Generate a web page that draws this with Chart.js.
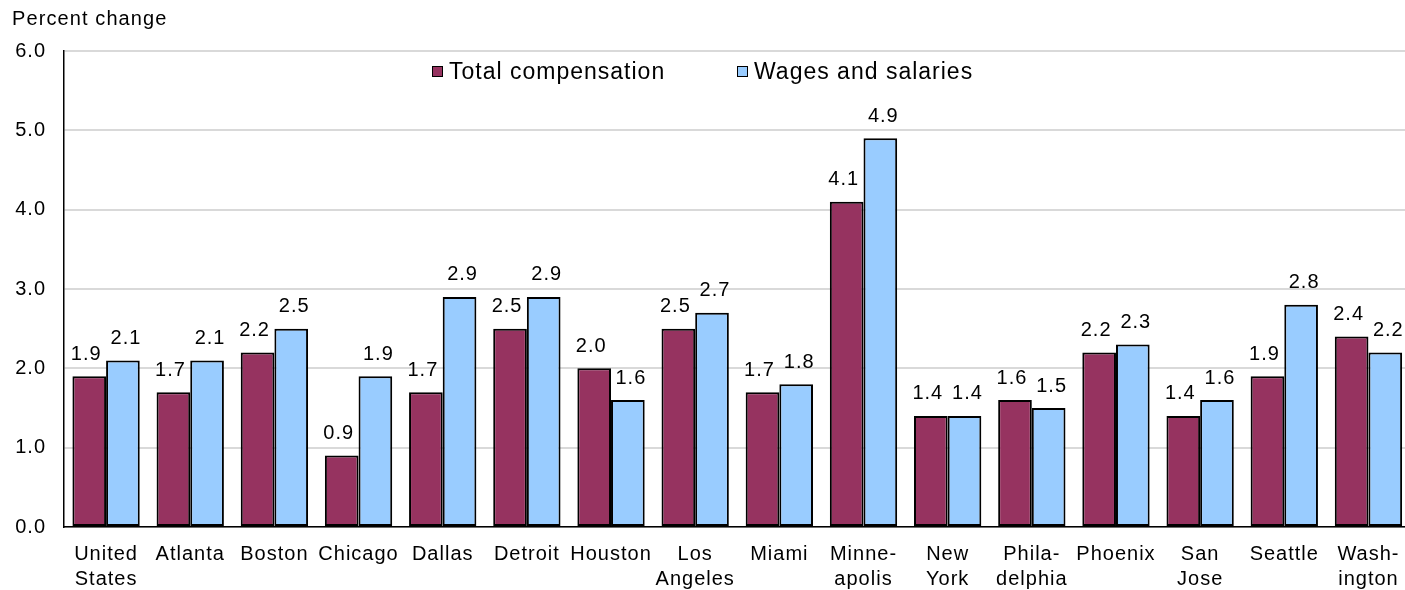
<!DOCTYPE html>
<html>
<head>
<meta charset="utf-8">
<script src="https://cdn.jsdelivr.net/npm/chart.js@4"></script>
<style>
  body { margin: 0; overflow: hidden; background: #fff; font-family: "Liberation Sans", Arial, sans-serif; }
  #wrap { position: absolute; left: 0; top: 0; width: 1412px; height: 590px; }
  #ylabel { position: absolute; left: 12px; top: 7px; font-size: 20px; letter-spacing: 1.1px; color: #000; }
  .leg { position: absolute; top: 58px; font-size: 23px; letter-spacing: 1px; color: #000; white-space: nowrap; }
  .leg span { display: inline-block; width: 9px; height: 9px; border: 1.5px solid #000; margin-right: 6px; vertical-align: 2px; }
</style>
</head>
<body>
<div id="wrap">
  <canvas id="chart" width="1412" height="590"></canvas>
  <div id="ylabel">Percent change</div>
  <div class="leg" style="left:432px"><span style="background:#963360"></span>Total compensation</div>
  <div class="leg" style="left:737px"><span style="background:#99ccff"></span>Wages and salaries</div>
</div>
<script>
// categories (multi-line labels as in the original)
let areas = [
  ["United", "States"], "Atlanta", "Boston", "Chicago", "Dallas", "Detroit", "Houston",
  ["Los", "Angeles"], "Miami", ["Minne-", "apolis"], ["New", "York"], ["Phila-", "delphia"],
  "Phoenix", ["San", "Jose"], "Seattle", ["Wash-", "ington"]
];
let total_comp = [1.9, 1.7, 2.2, 0.9, 1.7, 2.5, 2.0, 2.5, 1.7, 4.1, 1.4, 1.6, 2.2, 1.4, 1.9, 2.4];
let wages = [2.1, 2.1, 2.5, 1.9, 2.9, 2.9, 1.6, 2.7, 1.8, 4.9, 1.4, 1.5, 2.3, 1.6, 2.8, 2.2];
let y_ticks = [0, 1, 2, 3, 4, 5, 6];

const FONT = "'Liberation Sans', Arial, sans-serif";

// spacing like the original text rendering
const spacing = {
  id: 'spacing',
  beforeDraw(chart) {
    chart.ctx.letterSpacing = '1px';
  }
};

// value labels above each bar
const barLabels = {
  id: 'barLabels',
  afterDatasetsDraw(chart) {
    const ctx = chart.ctx;
    ctx.save();
    ctx.font = '20px ' + FONT;
    ctx.fillStyle = '#000';
    ctx.textAlign = 'center';
    ctx.textBaseline = 'bottom';
    chart.data.datasets.forEach((ds, i) => {
      const meta = chart.getDatasetMeta(i);
      const dx = i === 0 ? -3 : 3;
      meta.data.forEach((bar, j) => {
        ctx.fillText(ds.data[j].toFixed(1), bar.x + dx, bar.y - 12);
      });
    });
    ctx.restore();
  }
};

const ctx = document.getElementById('chart').getContext('2d');
let chart = new Chart(ctx, {
  type: 'bar',
  data: {
    labels: areas,
    datasets: [{
      label: 'Total compensation',
      data: total_comp,
      backgroundColor: '#963360',
      borderColor: '#000',
      borderWidth: 2,
      borderSkipped: false
    }, {
      label: 'Wages and salaries',
      data: wages,
      backgroundColor: '#99ccff',
      borderColor: '#000',
      borderWidth: 2,
      borderSkipped: false
    }]
  },
  options: {
    responsive: false,
    animation: false,
    events: [],
    layout: { padding: { top: 51, right: 1, bottom: 0, left: 0 } },
    datasets: { bar: { categoryPercentage: 0.8, barPercentage: 1.0 } },
    plugins: {
      legend: { display: false },
      tooltip: { enabled: false }
    },
    scales: {
      x: {
        grid: { display: false, drawTicks: false },
        border: { color: '#000', width: 1.5 },
        ticks: {
          color: '#000',
          maxRotation: 0,
          autoSkip: false,
          padding: 15,
          font: { family: FONT, size: 20, lineHeight: '25px' }
        },
        afterFit: s => { s.height = 63; }
      },
      y: {
        min: 0,
        max: 6,
        afterBuildTicks: s => { s.ticks = y_ticks.map(v => ({ value: v })); },
        grid: { color: '#d9d9d9', lineWidth: 2, drawTicks: false },
        border: { color: '#000', width: 1.5 },
        ticks: {
          color: '#000',
          padding: 18,
          font: { family: FONT, size: 20 },
          callback: v => v.toFixed(1)
        },
        afterFit: s => { s.width = 64; }
      }
    }
  },
  plugins: [spacing, barLabels]
});
</script>
</body>
</html>
